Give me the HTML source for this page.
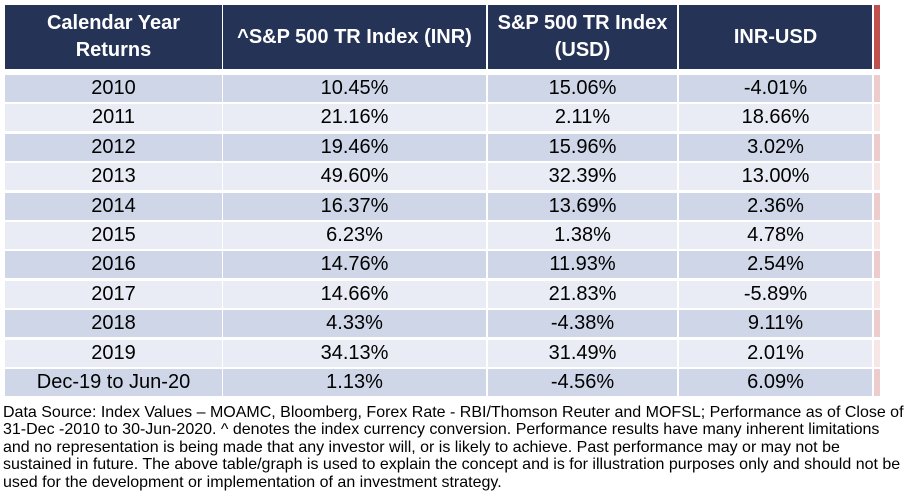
<!DOCTYPE html>
<html><head><style>
body{margin:0;width:908px;height:499px;background:#fff;position:relative;overflow:hidden;font-family:"Liberation Sans",Arial,sans-serif}
.c{position:absolute;display:flex;align-items:center;justify-content:center;text-align:center;font-size:20px;color:#000}
.h{background:#253356;color:#fff;font-weight:bold;font-size:20px;line-height:27px}
.note{position:absolute;left:3px;top:404px;width:905px;font-size:16px;line-height:17.4px;color:#000;white-space:nowrap}
</style></head><body>
<div id="t"></div>
<div class="note">Data Source: Index Values – MOAMC, Bloomberg, Forex Rate - RBI/Thomson Reuter and MOFSL; Performance as of Close of<br>31-Dec -2010 to 30-Jun-2020. ^ denotes the index currency conversion. Performance results have many inherent limitations<br>and no representation is being made that any investor will, or is likely to achieve. Past performance may or may not be<br>sustained in future. The above table/graph is used to explain the concept and is for illustration purposes only and should not be<br>used for the development or implementation of an investment strategy.</div>
<script>
const cols=[[5,217],[223,263],[488,189],[679,193]];
const hdr=["Calendar Year<br>Returns","^S&amp;P 500 TR Index (INR)","S&amp;P 500 TR Index<br>(USD)","INR-USD"];
const rows=[["2010","10.45%","15.06%","-4.01%"],["2011","21.16%","2.11%","18.66%"],["2012","19.46%","15.96%","3.02%"],["2013","49.60%","32.39%","13.00%"],["2014","16.37%","13.69%","2.36%"],["2015","6.23%","1.38%","4.78%"],["2016","14.76%","11.93%","2.54%"],["2017","14.66%","21.83%","-5.89%"],["2018","4.33%","-4.38%","9.11%"],["2019","34.13%","31.49%","2.01%"],["Dec-19 to Jun-20","1.13%","-4.56%","6.09%"]];
let h="";
cols.forEach((c,i)=>{h+=`<div class="c h" style="left:${c[0]}px;top:5px;width:${c[1]}px;height:64px">${hdr[i]}</div>`});
h+=`<div class="c" style="left:874px;top:5px;width:6px;height:64px;background:#c0504d"></div>`;
rows.forEach((r,j)=>{const y=75+j*29.4;const bg=j%2==0?"#cfd6e8":"#e9ecf4";const pk=j%2==0?"#eccccc":"#f6e6e6";
cols.forEach((c,i)=>{h+=`<div class="c" style="left:${c[0]}px;top:${y}px;width:${c[1]}px;height:27px;background:${bg}">${r[i]}</div>`});
h+=`<div class="c" style="left:874px;top:${y}px;width:6px;height:27px;background:${pk}"></div>`;});
document.getElementById("t").innerHTML=h;
</script>
</body></html>
